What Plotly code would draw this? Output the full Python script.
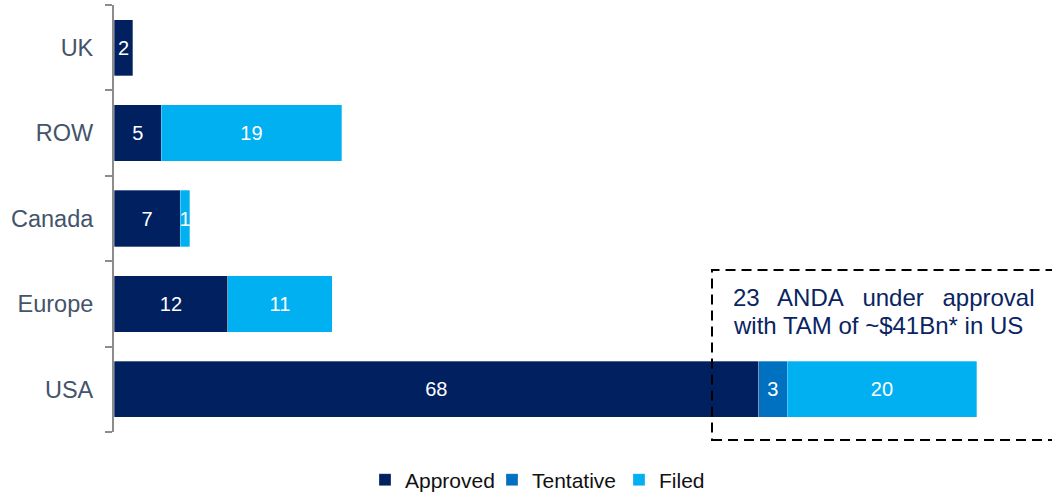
import plotly.graph_objects as go

regions = ["USA", "Europe", "Canada", "ROW", "UK"]
approved = [68, 12, 7, 5, 2]
tentative = [3, None, None, None, None]
filed = [20, 11, 1, 19, None]

series_names = ["Approved", "Tentative", "Filed"]
colors = ["#002060", "#0070C0", "#00B0F0"]
note_lines = ["23\u2002 ANDA\u2002 under\u2002 approval",
              "with TAM of ~$41Bn* in US"]

FONT = "Liberation Sans, Arial, sans-serif"

fig = go.Figure()
for name, vals, col in zip(series_names, [approved, tentative, filed], colors):
    fig.add_trace(go.Bar(
        y=regions, x=vals, name=name, orientation="h",
        marker=dict(color=col, line=dict(color="rgba(255,255,255,0.6)", width=0.5)),
        text=[("" if v is None else str(v)) for v in vals],
        textposition="inside", insidetextanchor="middle",
        textfont=dict(color="white", size=20, family=FONT),
        hoverinfo="skip",
    ))

plot_l, plot_r, plot_t, plot_b = 114, 0, 5, 62
W, H = 1052, 494
pw = W - plot_l - plot_r
ph = H - plot_t - plot_b

def py(p):
    return (H - plot_b - p) / ph

def px(p):
    return (p - plot_l) / pw

fig.update_layout(
    barmode="stack",
    bargap=0.34,
    width=W, height=H,
    margin=dict(l=plot_l, r=plot_r, t=plot_t, b=plot_b, pad=0, autoexpand=False),
    paper_bgcolor="white", plot_bgcolor="white",
    font=dict(family=FONT),
    uniformtext=dict(minsize=20, mode="show"),
    showlegend=True,
    legend=dict(orientation="h", x=px(365), xanchor="left",
                y=py(480), yanchor="middle",
                font=dict(size=21, color="#111111", family=FONT),
                traceorder="normal", itemwidth=30, tracegroupgap=0,
                entrywidth=82, entrywidthmode="pixels"),
    xaxis=dict(range=[0, pw / 9.48], showgrid=False, zeroline=False,
               showticklabels=False, showline=False, fixedrange=True,
               automargin=False),
    yaxis=dict(categoryorder="array", categoryarray=regions,
               showline=True, linecolor="#8c8c8c", linewidth=2,
               ticks="outside", ticklen=7, tickwidth=2, tickcolor="#8c8c8c",
               tickson="boundaries", showgrid=False, zeroline=False,
               tickfont=dict(size=23.5, color="#44546A", family=FONT),
               ticklabelstandoff=14, automargin=False, fixedrange=True),
)

fig.add_shape(type="rect", xref="paper", yref="paper",
              x0=px(712), x1=1.02,
              y0=py(440), y1=py(270),
              line=dict(color="black", width=2, dash="10px,6px"),
              fillcolor="rgba(0,0,0,0)", layer="above")

for line, cy in zip(note_lines, [297, 325]):
    fig.add_annotation(xref="paper", yref="paper",
                       x=px(731), xanchor="left",
                       y=py(cy), yanchor="middle",
                       text=line, showarrow=False, align="left",
                       font=dict(size=24, color="#0A2463", family=FONT))

fig.write_html("out.html", config={"displayModeBar": False},
               post_script="document.body.style.margin='0';document.body.style.overflow='hidden';")
